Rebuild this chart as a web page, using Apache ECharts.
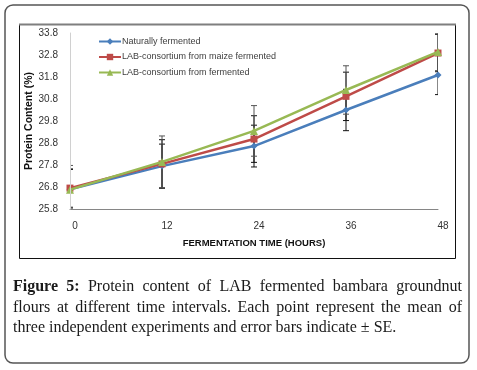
<!DOCTYPE html>
<html>
<head>
<meta charset="utf-8">
<script src="https://cdn.jsdelivr.net/npm/echarts@6/dist/echarts.min.js"></script>
<style>
html,body{margin:0;padding:0;background:#fff;}
#wrap{position:relative;width:477px;height:370px;}
#chart{position:absolute;left:0;top:0;width:477px;height:370px;}
#cap{position:absolute;left:13px;top:276px;width:449px;font-family:"Liberation Serif","DejaVu Serif",serif;font-size:16px;line-height:20.5px;color:#1a1a1a;}
#cap div{white-space:nowrap;}
#cap .j{text-align:justify;text-align-last:justify;white-space:normal;}
#cap b{font-weight:bold;}
</style>
</head>
<body>
<div id="wrap">
<div id="chart"></div>
<div id="cap">
<div class="j"><b>Figure 5:</b> Protein content of LAB fermented bambara groundnut</div>
<div class="j">flours at different time intervals. Each point represent the mean of</div>
<div>three independent experiments and error bars indicate ± SE.</div>
</div>
</div>
<script>
// ---- data ----
var categories = ['0', '12', '24', '36', '48'];
var seriesNames = ['Naturally fermented', 'LAB-consortium from maize fermented', 'LAB-consortium from fermented'];
var naturalValues = [26.70, 27.75, 28.66, 30.30, 31.89];
var maizeValues   = [26.75, 27.85, 28.98, 30.92, 32.89];
var fermValues    = [26.68, 27.94, 29.35, 31.21, 32.94];
var naturalSE = [0.90, 1.00, 0.95, 0.94, 0.89];
var maizeSE   = [0.87, 1.10, 1.06, 1.10, 0.85];
var fermSE    = [1.10, 1.18, 1.15, 1.10, 0.85];
var yTickMin = 25.8, yTickMax = 33.8, yTickStep = 1;

var colors = ['#4a7ebb', '#be4b48', '#98b954'];
var symbols = ['diamond', 'rect', 'triangle'];
var symbolSizes = [7, 7, 8];
var valuesList = [naturalValues, maizeValues, fermValues];
var seList = [naturalSE, maizeSE, fermSE];
var errColors = ['#111', '#111', '#555'];

function errData(vals, se) {
  return vals.map(function (v, i) { return [i, v - se[i], v + se[i]]; });
}
function renderErr(color) {
  return function (params, api) {
    var lo = api.coord([api.value(0), api.value(1)]);
    var hi = api.coord([api.value(0), api.value(2)]);
    var w = 3;
    var st = { stroke: color, lineWidth: 1 };
    return {
      type: 'group',
      children: [
        { type: 'line', shape: { x1: hi[0], y1: hi[1], x2: lo[0], y2: lo[1] }, style: st },
        { type: 'line', shape: { x1: hi[0] - w, y1: hi[1], x2: hi[0] + w, y2: hi[1] }, style: st },
        { type: 'line', shape: { x1: lo[0] - w, y1: lo[1], x2: lo[0] + w, y2: lo[1] }, style: st }
      ]
    };
  };
}

var series = [];
for (var k = 0; k < 3; k++) {
  series.push({
    type: 'custom',
    name: seriesNames[k] + ' SE',
    renderItem: renderErr(errColors[k]),
    data: errData(valuesList[k], seList[k]),
    clip: true,
    z: 1,
    silent: true
  });
}
for (var k2 = 0; k2 < 3; k2++) {
  series.push({
    type: 'line',
    name: seriesNames[k2],
    data: valuesList[k2],
    symbol: symbols[k2],
    symbolSize: symbolSizes[k2],
    lineStyle: { width: 2.5, color: colors[k2] },
    itemStyle: { color: colors[k2] },
    z: 3 + k2
  });
}

var chart = echarts.init(document.getElementById('chart'), null, { renderer: 'canvas' });
chart.setOption({
  animation: false,
  backgroundColor: 'transparent',
  grid: { left: 70, right: 39, top: 33, bottom: 161 },
  legend: {
    data: seriesNames,
    orient: 'vertical',
    left: 93,
    top: 32,
    itemWidth: 22,
    itemHeight: 8,
    itemGap: 6.5,
    textStyle: { fontFamily: 'Liberation Sans', fontSize: 9, color: '#404040', padding: [0, 0, 0, -4] }
  },
  xAxis: {
    type: 'category',
    data: categories,
    boundaryGap: false,
    name: 'FERMENTATION TIME (HOURS)',
    nameLocation: 'middle',
    nameGap: 29,
    nameTextStyle: { fontFamily: 'Liberation Sans', fontWeight: 'bold', fontSize: 9.5, color: '#111' },
    axisLine: { lineStyle: { color: '#868686', width: 1 } },
    axisTick: { show: false },
    axisLabel: { fontFamily: 'Liberation Sans', fontSize: 10, color: '#333', margin: 12, padding: [0, 0, 0, 10] },
    splitLine: { show: false }
  },
  yAxis: {
    type: 'value',
    min: yTickMin,
    max: yTickMax,
    interval: yTickStep,
    z: 10,
    name: 'Protein Content (%)',
    nameLocation: 'middle',
    nameGap: 35,
    nameMoveOverlap: false,
    nameTextStyle: { fontFamily: 'Liberation Sans', fontWeight: 'bold', fontSize: 10.5, color: '#111' },
    axisLine: { show: true, lineStyle: { color: '#d0d0d0', width: 1 } },
    axisTick: { show: false },
    axisLabel: { fontFamily: 'Liberation Sans', fontSize: 10, color: '#333', margin: 12,
      formatter: function (v) { return v.toFixed(1); } },
    splitLine: { show: false }
  },
  graphic: [
    { type: 'rect', shape: { x: 5, y: 5, width: 464, height: 358, r: 8 },
      style: { fill: 'none', stroke: '#555', lineWidth: 1.5 }, z: 0, silent: true },
    { type: 'rect', shape: { x: 19.5, y: 24.5, width: 436, height: 234 },
      style: { fill: 'none', stroke: '#111', lineWidth: 1 }, z: 0, silent: true },
    { type: 'line', shape: { x1: 19, y1: 24.5, x2: 456, y2: 24.5 },
      style: { stroke: '#7f7f7f', lineWidth: 2 }, z: 0, silent: true }
  ],
  series: series
});
</script>
</body>
</html>
